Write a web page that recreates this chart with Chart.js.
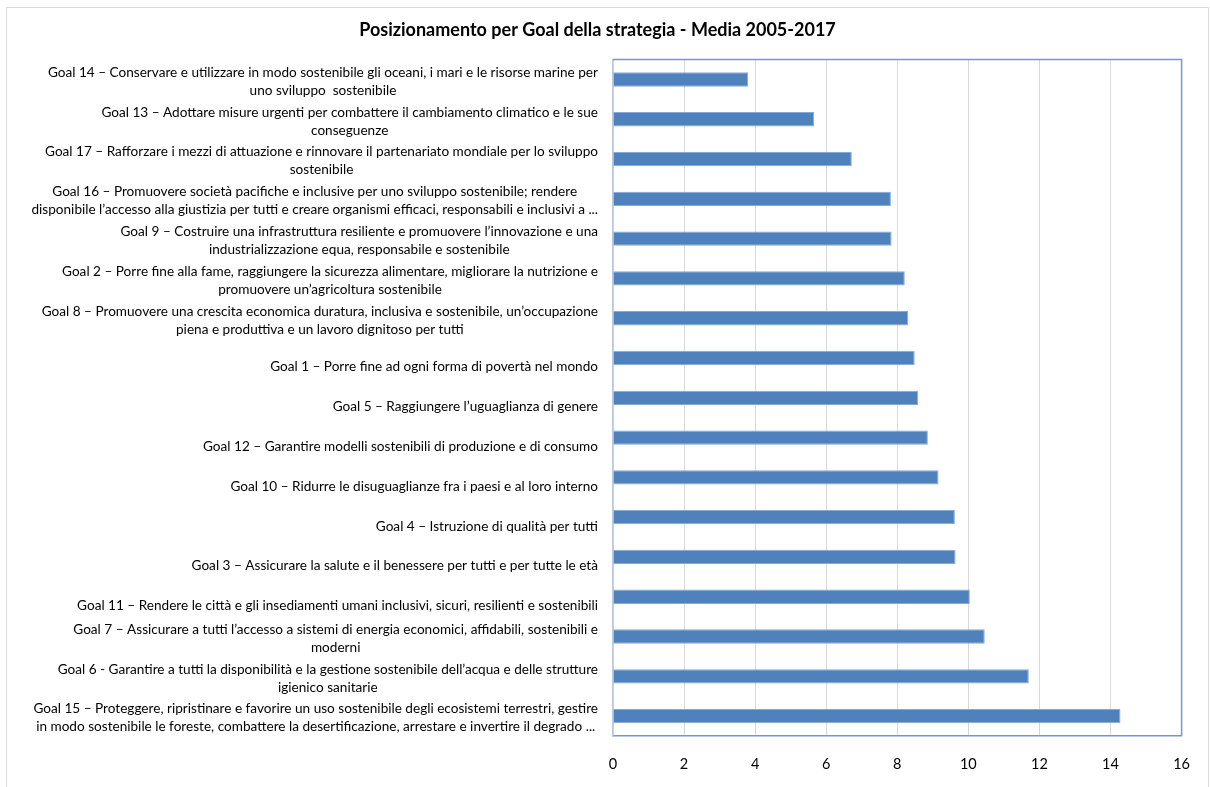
<!DOCTYPE html>
<html>
<head>
<meta charset="utf-8">
<script src="https://cdn.jsdelivr.net/npm/chart.js@4"></script>
<style>
  html, body { margin: 0; padding: 0; background: #fff; }
  #chart { display: block; }
</style>
</head>
<body>
<canvas id="chart" width="1210" height="787"></canvas>
<script>
// Goal labels, one array of lines per bar (top to bottom)
const goalLabels = [
  ["Goal 14 – Conservare e utilizzare in modo sostenibile gli oceani, i mari e le risorse marine per", "uno sviluppo  sostenibile"],
  ["Goal 13 – Adottare misure urgenti per combattere il cambiamento climatico e le sue", "conseguenze"],
  ["Goal 17 – Rafforzare i mezzi di attuazione e rinnovare il partenariato mondiale per lo sviluppo", "sostenibile"],
  ["Goal 16 – Promuovere società pacifiche e inclusive per uno sviluppo sostenibile; rendere", "disponibile l’accesso alla giustizia per tutti e creare organismi efficaci, responsabili e inclusivi a ..."],
  ["Goal 9 – Costruire una infrastruttura resiliente e promuovere l’innovazione e una", "industrializzazione equa, responsabile e sostenibile"],
  ["Goal 2 – Porre fine alla fame, raggiungere la sicurezza alimentare, migliorare la nutrizione e", "promuovere un’agricoltura sostenibile"],
  ["Goal 8 – Promuovere una crescita economica duratura, inclusiva e sostenibile, un’occupazione", "piena e produttiva e un lavoro dignitoso per tutti"],
  ["Goal 1 – Porre fine ad ogni forma di povertà nel mondo"],
  ["Goal 5 – Raggiungere l’uguaglianza di genere"],
  ["Goal 12 – Garantire modelli sostenibili di produzione e di consumo"],
  ["Goal 10 – Ridurre le disuguaglianze fra i paesi e al loro interno"],
  ["Goal 4 – Istruzione di qualità per tutti"],
  ["Goal 3 – Assicurare la salute e il benessere per tutti e per tutte le età"],
  ["Goal 11 – Rendere le città e gli insediamenti umani inclusivi, sicuri, resilienti e sostenibili"],
  ["Goal 7 – Assicurare a tutti l’accesso a sistemi di energia economici, affidabili, sostenibili e", "moderni"],
  ["Goal 6 - Garantire a tutti la disponibilità e la gestione sostenibile dell’acqua e delle strutture", "igienico sanitarie"],
  ["Goal 15 – Proteggere, ripristinare e favorire un uso sostenibile degli ecosistemi terrestri, gestire", "in modo sostenibile le foreste, combattere la desertificazione, arrestare e invertire il degrado ..."]
];

// average position 2005-2017
const mediaValues = [3.80, 5.66, 6.72, 7.82, 7.84, 8.21, 8.31, 8.49, 8.59, 8.86, 9.16, 9.62, 9.64, 10.04, 10.46, 11.70, 14.28];

const xTicks = [0, 2, 4, 6, 8, 10, 12, 14, 16];

const titleText = "Posizionamento per Goal della strategia - Media 2005-2017";

const LABEL_FONT = "Lato, 'Liberation Sans', sans-serif";

// pick a label size so the widest line fills the space left of the axis
function fitLabelSize(ctx, maxWidth) {
  let widest = 0;
  ctx.font = "100px " + LABEL_FONT;
  goalLabels.forEach((lines) => lines.forEach((l) => {
    widest = Math.max(widest, ctx.measureText(l).width);
  }));
  return Math.min(14, (100 * maxWidth) / widest);
}

// outer frame of the chart object
const framePlugin = {
  id: "frame",
  beforeDraw(chart) {
    const ctx = chart.ctx;
    ctx.save();
    ctx.fillStyle = "#fff";
    ctx.fillRect(0, 0, chart.width, chart.height);
    ctx.strokeStyle = "#d9d9d9";
    ctx.lineWidth = 1;
    ctx.strokeRect(6.5, 7.5, 1202, 800);
    ctx.restore();
  },
  afterDraw(chart) {
    // plot area border on top and right
    const { top, right, left } = chart.chartArea;
    const ctx = chart.ctx;
    ctx.save();
    ctx.strokeStyle = "#6d9ad2";
    ctx.lineWidth = 1.5;
    ctx.beginPath();
    ctx.moveTo(left, top);
    ctx.lineTo(right, top);
    ctx.lineTo(right, chart.chartArea.bottom);
    ctx.stroke();
    ctx.restore();
  }
};

// category labels: each block right aligned, its lines centred on each other
const goalLabelPlugin = {
  id: "goalLabels",
  afterDraw(chart) {
    const ctx = chart.ctx;
    const yScale = chart.scales.y;
    const size = fitLabelSize(ctx, 567);
    const rightEdge = yScale.right - 15;
    ctx.save();
    ctx.font = size + "px " + LABEL_FONT;
    ctx.fillStyle = "#000";
    ctx.textAlign = "center";
    ctx.textBaseline = "middle";
    goalLabels.forEach((lines, i) => {
      const yc = yScale.getPixelForValue(i);
      const blockW = Math.max(...lines.map((l) => ctx.measureText(l).width));
      const cx = rightEdge - blockW / 2;
      let y = yc + (lines.length === 1 ? 9 : -7);
      lines.forEach((l) => {
        ctx.fillText(l, cx, y);
        y += 18;
      });
    });
    ctx.restore();
  }
};

new Chart(document.getElementById("chart"), {
  type: "bar",
  data: {
    labels: goalLabels.map((l) => l.join(" ")),
    datasets: [
      {
        data: mediaValues,
        backgroundColor: "#4f81bd",
        borderColor: "#86a9d8",
        borderWidth: 1,
        barPercentage: 0.36,
        categoryPercentage: 1,
      },
    ],
  },
  options: {
    indexAxis: "y",
    responsive: false,
    animation: false,
    layout: { padding: { top: 15, left: 8, right: 23, bottom: 11 } },
    plugins: {
      legend: { display: false },
      tooltip: { enabled: false },
      title: {
        display: true,
        text: titleText,
        color: "#000",
        font: { family: "Lato, 'Liberation Sans', sans-serif", size: 18, weight: "bold" },
        padding: { top: 4, bottom: 19 },
      },
    },
    scales: {
      x: {
        min: 0,
        max: 16,
        afterBuildTicks: (scale) => {
          scale.ticks = xTicks.map((v) => ({ value: v }));
        },
        afterFit: (scale) => {
          scale.height = 40;
        },
        grid: { color: "#d9d9d9", drawTicks: false, lineWidth: 1 },
        border: { color: "#6d9ad2", width: 1.5 },
        ticks: {
          color: "#000",
          padding: 20,
          font: { family: "Lato, 'Liberation Sans', sans-serif", size: 14.5 },
        },
      },
      y: {
        afterFit: (scale) => {
          scale.width = 605;
        },
        grid: { display: false },
        border: { color: "#b9c9e0", width: 1.5 },
        ticks: { display: false },
      },
    },
  },
  plugins: [framePlugin, goalLabelPlugin],
});
</script>
</body>
</html>
